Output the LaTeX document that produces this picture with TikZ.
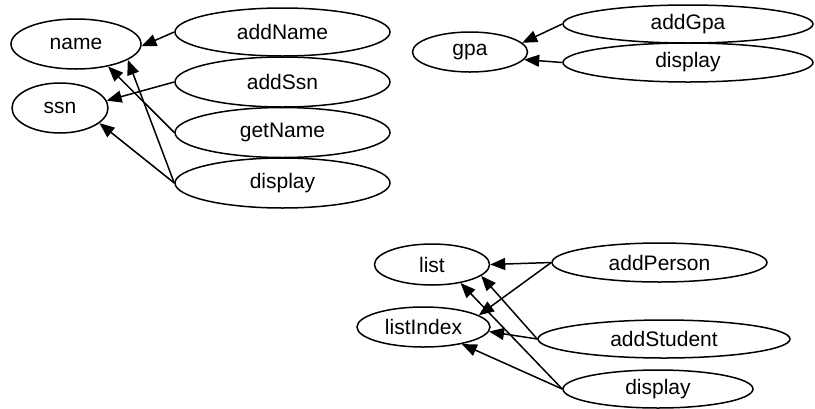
\documentclass[tikz,border=0pt]{standalone}
\usepackage{fontspec}
\setmainfont{Liberation Sans}
\usetikzlibrary{shapes.geometric,arrows.meta}
\begin{document}
\begin{tikzpicture}[x=1pt,y=-1pt,
  ell/.style n args={2}{ellipse, draw, line width=1.5pt, inner sep=0pt,
    minimum width=#1pt, minimum height=#2pt, font=\fontsize{21}{25}\selectfont},
  edge/.style={line width=1.5pt, -{Triangle[length=15pt,width=12pt]}}]
\useasboundingbox (0,0) rectangle (815,408);
% top-left group
\node[ell={130}{50}] (name) at (76,44) {name};
\node[ell={96}{50}] (ssn) at (60,108) {ssn};
\node[ell={215}{48}] (addName) at (282.5,32) {addName};
\node[ell={215}{50}] (addSsn) at (282.5,82) {addSsn};
\node[ell={215}{50}] (getName) at (282.5,132.5) {getName};
\node[ell={215}{50}] (display1) at (282.5,183) {display};
% top-right group
\node[ell={115}{40}] (gpa) at (470,52) {gpa};
\node[ell={250}{38}] (addGpa) at (688,24) {addGpa};
\node[ell={250}{39}] (display2) at (688,62.5) {display};
% bottom group
\node[ell={115}{41}] (list) at (432,264.5) {list};
\node[ell={133}{40}] (listIndex) at (423.5,327) {listIndex};
\node[ell={215}{39}] (addPerson) at (659.5,262.5) {addPerson};
\node[ell={252}{38}] (addStudent) at (664,339) {addStudent};
\node[ell={190}{38}] (display3) at (658,389) {display};
% edges
\draw[edge] (addName.west) -- (name.-2);
\draw[edge] (addSsn.west) -- (ssn.9);
\draw[edge] (getName.west) -- (name.-35);
\draw[edge] (display1.west) -- (name.-17);
\draw[edge] (display1.west) -- (ssn.-21);
\draw[edge] (addGpa.west) -- (gpa.10);
\draw[edge] (display2.west) -- (gpa.-8);
\draw[edge] (addPerson.west) -- (list.0);
\draw[edge] (addPerson.west) -- (listIndex.12);
\draw[edge] (addStudent.west) -- (list.-13);
\draw[edge] (addStudent.west) -- (listIndex.-4);
\draw[edge] (display3.west) -- (list.-33);
\draw[edge] (display3.west) -- (listIndex.-24);
\end{tikzpicture}
\end{document}
